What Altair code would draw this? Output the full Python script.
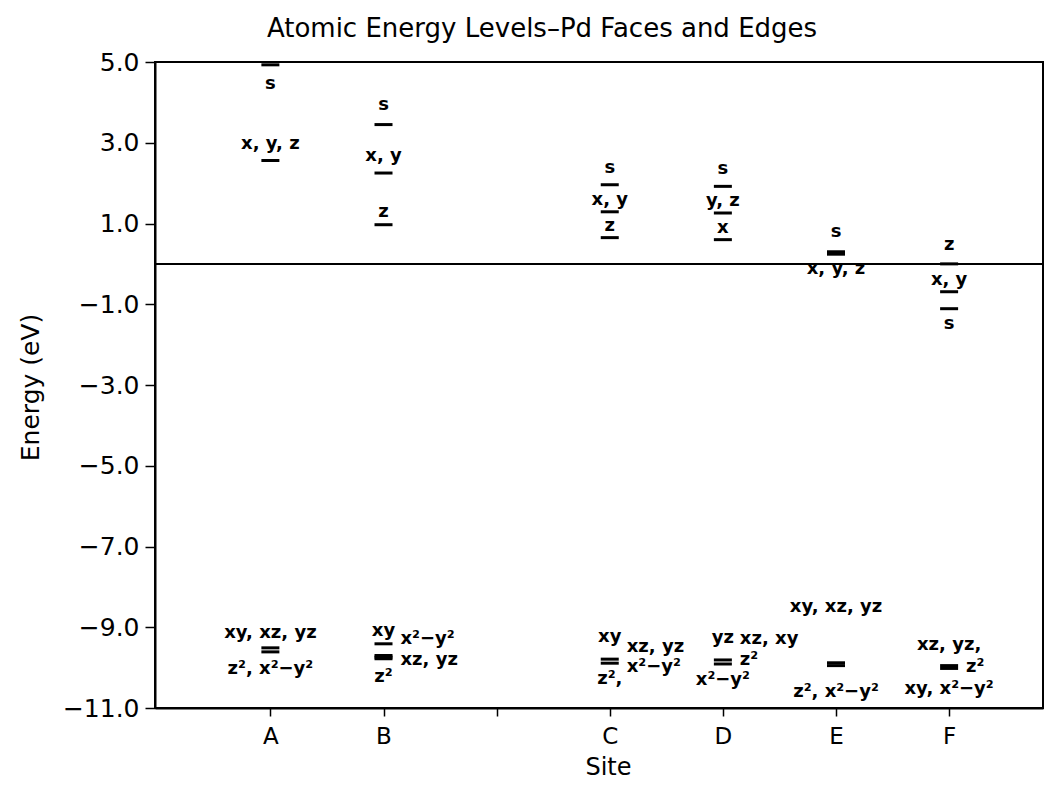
import altair as alt
import pandas as pd

# ---------------- data ----------------
site_names = ["A", "B", "C", "D", "E", "F"]
site_pos = [1, 2, 4, 5, 6, 7]

# energy levels (eV)
lvl_site = ["A", "A", "A", "A",
            "B", "B", "B", "B", "B", "B", "B",
            "C", "C", "C", "C", "C",
            "D", "D", "D", "D", "D",
            "E", "E", "E", "E",
            "F", "F", "F", "F", "F"]
lvl_orbital = ["s", "x,y,z", "xy,xz,yz", "z2,x2-y2",
               "s", "x,y", "z", "xy", "x2-y2", "xz,yz", "z2",
               "s", "x,y", "z", "xy,xz,yz", "z2,x2-y2",
               "s", "y,z", "x", "yz,xz,xy", "z2,x2-y2",
               "s", "x,y,z", "xy,xz,yz", "z2,x2-y2",
               "z", "x,y", "s", "xz,yz,z2", "xy,x2-y2"]
lvl_energy = [4.93, 2.56, -9.51, -9.61,
              3.45, 2.25, 0.97, -9.41, -9.70, -9.74, -9.78,
              1.96, 1.29, 0.65, -9.79, -9.89,
              1.92, 1.26, 0.60, -9.81, -9.91,
              0.30, 0.24, -9.88, -9.95,
              0.00, -0.69, -1.11, -9.95, -10.02]

# level annotations
lab_site = ["A", "A", "A", "A",
            "B", "B", "B", "B", "B", "B", "B",
            "C", "C", "C", "C", "C", "C", "C",
            "D", "D", "D", "D", "D", "D", "D",
            "E", "E", "E", "E",
            "F", "F", "F", "F", "F", "F"]
lab_energy = [4.46, 2.96, -9.14, -10.03,
              3.94, 2.67, 1.29, -9.09, -9.29, -9.81, -10.23,
              2.38, 1.58, 0.94, -9.24, -9.49, -9.99, -10.28,
              2.35, 1.55, 0.90, -9.27, -9.29, -9.80, -10.30,
              0.78, -0.12, -8.50, -10.60,
              0.47, -0.40, -1.49, -9.45, -9.99, -10.52]
lab_text = ["s", "x, y, z", "xy, xz, yz", "z², x²−y²",
            "s", "x, y", "z", "xy", "x²−y²", "xz, yz", "z²",
            "s", "x, y", "z", "xy", "xz, yz", "x²−y²", "z²,",
            "s", "y, z", "x", "yz", "xz, xy", "z²", "x²−y²",
            "s", "x, y, z", "xy, xz, yz", "z², x²−y²",
            "z", "x, y", "s", "xz, yz,", "z²", "xy, x²−y²"]
lab_side = ["c", "c", "c", "c",
            "c", "c", "c", "c", "r", "r", "c",
            "c", "c", "c", "c", "r", "r", "c",
            "c", "c", "c", "c", "r", "r", "c",
            "c", "c", "c", "c",
            "c", "c", "c", "c", "r", "c"]

zero_level = [0.0]
y_ticks = [5, 3, 1, -1, -3, -5, -7, -9, -11]
x_ticks = [1, 2, 3, 4, 5, 6, 7]

# ---------------- tables ----------------
pos_of = dict(zip(site_names, site_pos))
levels = pd.DataFrame({"site": lvl_site, "orbital": lvl_orbital, "energy": lvl_energy})
levels["pos"] = levels["site"].map(pos_of)
labels = pd.DataFrame({"site": lab_site, "energy": lab_energy, "text": lab_text, "side": lab_side})
labels["pos"] = labels["site"].map(pos_of)
zero = pd.DataFrame({"energy": zero_level, "pos": [1.0]})

FONT = "DejaVu Sans"

label_expr = " : ".join(
    f"datum.value == {p} ? '{n}'" for n, p in zip(site_names, site_pos)
) + " : ''"

x_scale = alt.Scale(domain=[-0.02, 7.83], nice=False, zero=False)
y_scale = alt.Scale(domain=[-11, 5], nice=False, zero=False)

x_axis = alt.Axis(
    values=x_ticks, labelExpr=label_expr, grid=False, tickSize=8, tickWidth=1.5,
    domainWidth=2, labelFontSize=23, labelPadding=9, labelFlush=False,
    labelOverlap=False, title="Site", titleFontSize=24, titleFontWeight="normal",
    titleX=453, titleY=66, titleBaseline="alphabetic", titleAlign="center",
)
y_axis = alt.Axis(
    values=y_ticks, format=".1f", grid=False, tickSize=10, tickWidth=1.5,
    domainWidth=2, labelFontSize=25, labelPadding=6, labelFlush=False,
    labelOverlap=False, title="Energy (eV)", titleFontSize=25,
    titleFontWeight="normal", titleX=-125, titleY=325, titleAngle=270,
    titleBaseline="middle", titleAlign="center",
)

X = alt.X("pos:Q", scale=x_scale, axis=x_axis)
Y = alt.Y("energy:Q", scale=y_scale, axis=y_axis)

base_levels = alt.Chart(levels).mark_tick(
    orient="horizontal", size=18, thickness=3, color="black", opacity=1
).encode(x=X, y=Y)

zero_line = alt.Chart(zero).mark_rule(color="black", strokeWidth=2).encode(y=Y)

text_center = alt.Chart(labels).transform_filter("datum.side == 'c'").mark_text(
    font=FONT, fontSize=18, fontWeight="bold", align="center", baseline="middle", color="black"
).encode(x=X, y=Y, text="text:N")

text_right = alt.Chart(labels).transform_filter("datum.side == 'r'").mark_text(
    font=FONT, fontSize=18, fontWeight="bold", align="left", baseline="middle", dx=17, color="black"
).encode(x=X, y=Y, text="text:N")

chart = alt.layer(base_levels, zero_line, text_center, text_right).properties(
    width=888,
    height=646,
    background="white",
    padding={"left": 147, "top": 54, "right": 2, "bottom": 72},
    autosize=alt.AutoSizeParams(type="none"),
    title=alt.TitleParams(
        "Atomic Energy Levels–Pd Faces and Edges", font=FONT, fontSize=26,
        fontWeight="normal", anchor="middle", dx=-57, offset=8, color="black",
    ),
).configure_view(
    stroke="black", strokeWidth=2
).configure_axis(
    labelFont=FONT, titleFont=FONT, labelColor="black", titleColor="black",
    domainColor="black", tickColor="black",
)

chart.save("out.html", embed_options={"renderer": "svg", "actions": False})
